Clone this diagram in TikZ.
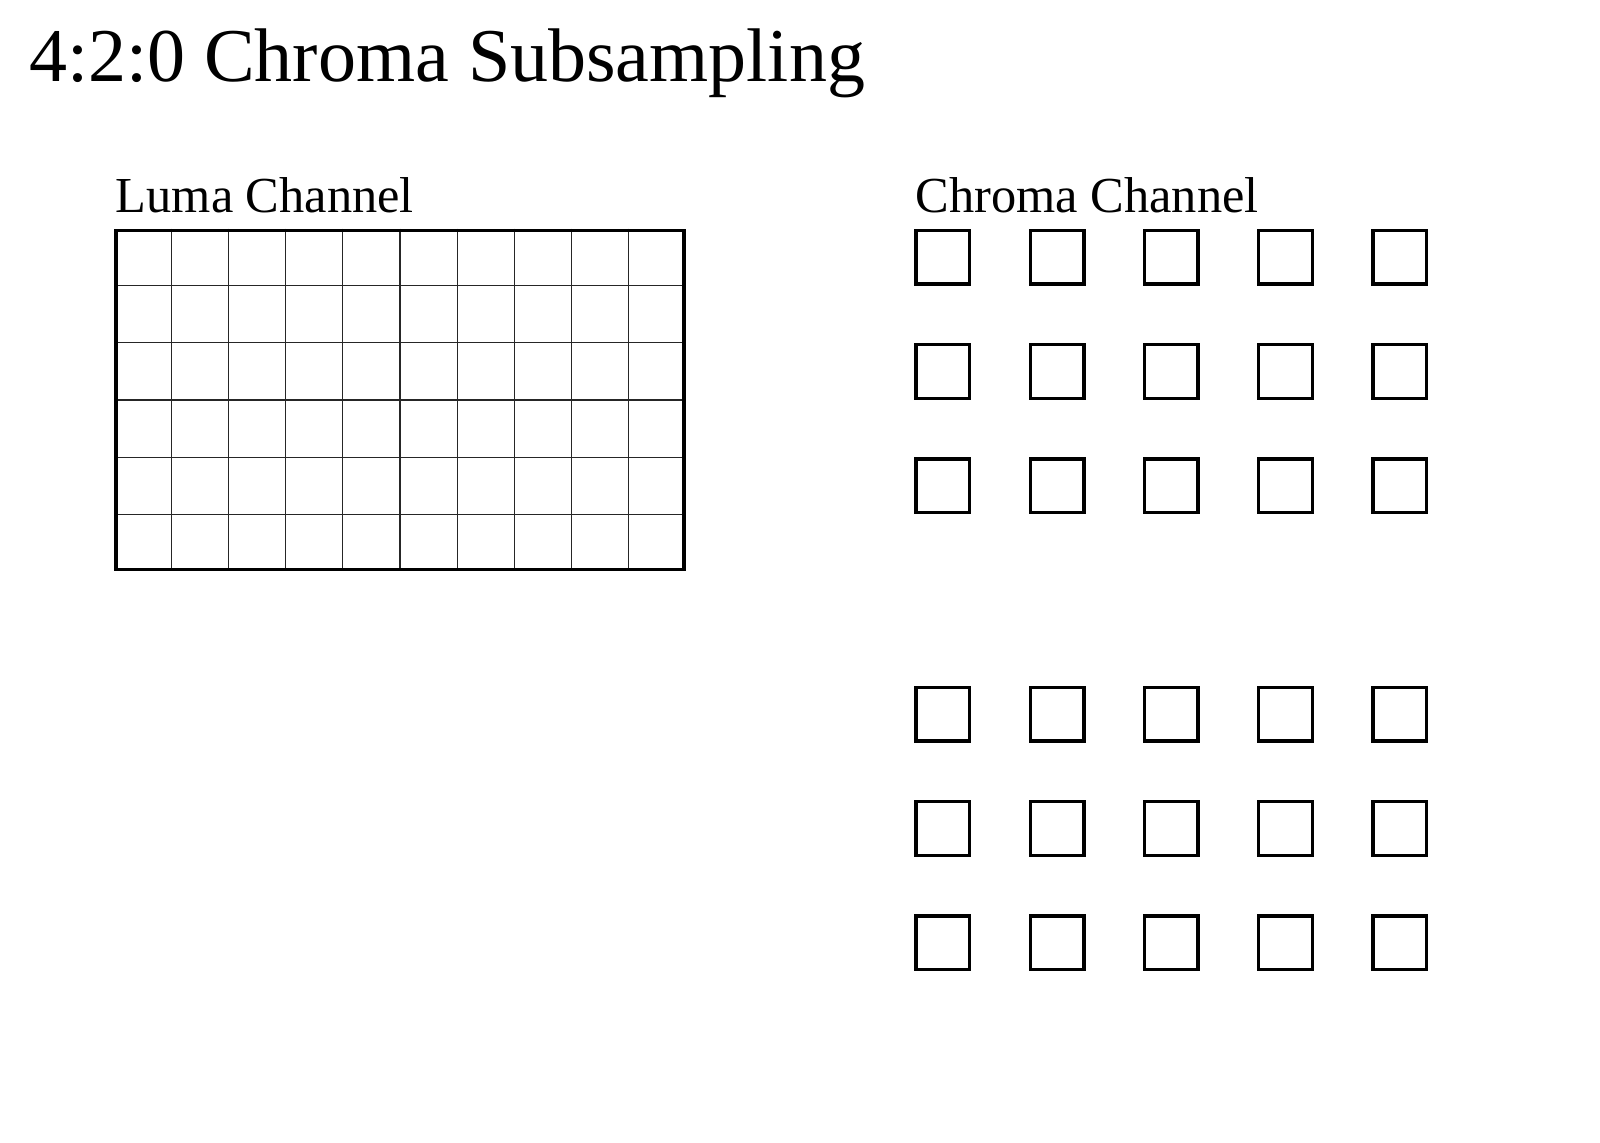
\documentclass[tikz,border=0pt]{standalone}
\usepackage{fontspec}
\setmainfont{Liberation Serif}
\begin{document}
\begin{tikzpicture}[x=0.5pt,y=-0.5pt,
  lbl/.style={anchor=base west,inner sep=0pt,outer sep=0pt},
  thinline/.style={line width=0.6pt,draw=black!85},
  frame/.style={line width=1.7pt,draw=black},
  csq/.style={draw=black,line width=1.7pt,minimum size=26.85pt,inner sep=0pt,outer sep=0pt,anchor=north west}]
\useasboundingbox (0,0) rectangle (1600,1142);
\node[lbl,font=\fontsize{38pt}{40pt}\selectfont] (title) at (29,81.6) {4:2:0 Chroma Subsampling};
\node[lbl,font=\fontsize{25.2pt}{27pt}\selectfont] (luma) at (115.8,212.3) {Luma Channel};
\node[lbl,font=\fontsize{25.2pt}{27pt}\selectfont] (chroma) at (915.8,212.3) {Chroma Channel};
% luma grid
\foreach \i in {1,...,9} {
  \draw[thinline] (114.3+\i*57.14,228.6) -- (114.3+\i*57.14,571.4);
}
\foreach \j in {1,...,5} {
  \draw[thinline] (114.3,228.6+\j*57.14) -- (685.7,228.6+\j*57.14);
}
\draw[frame] (115.8,230.4) rectangle (683.9,569.2);
% chroma squares
\foreach \r/\ry in {0/0,1/114.29,2/228.57,3/457.14,4/571.43,5/685.71} {
  \foreach \c in {0,...,4} {
    \node[csq] (sq-\r-\c) at (915.9+\c*114.29,230.3+\ry) {};
  }
}
\end{tikzpicture}
\end{document}
